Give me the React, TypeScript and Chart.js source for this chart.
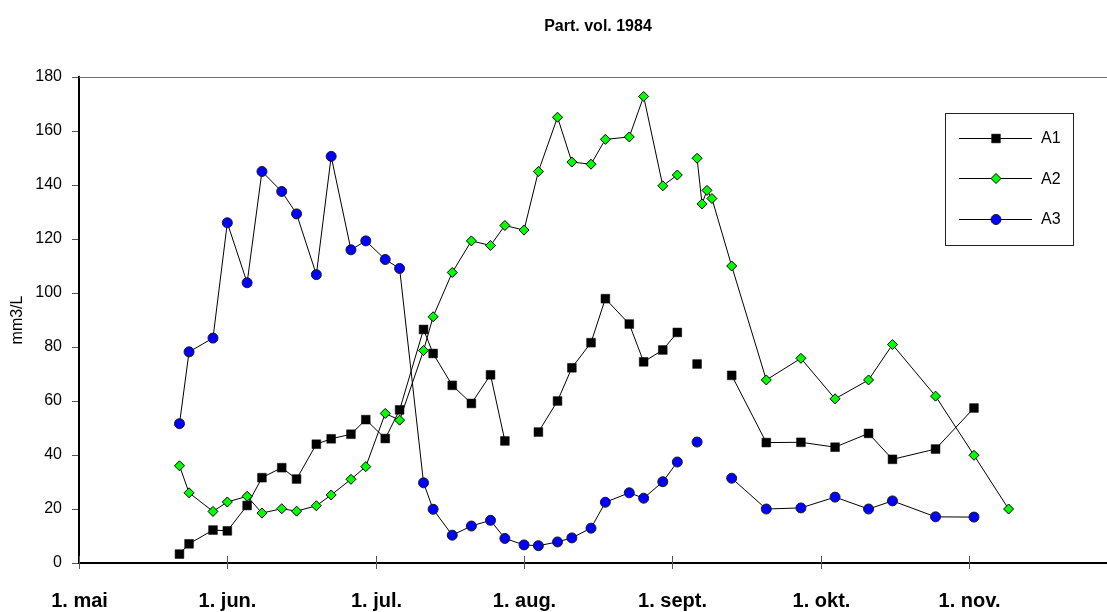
import React, { useEffect, useRef } from 'react';
import { Chart, registerables } from 'chart.js';

Chart.register(...registerables);

const chartTitle = 'Part. vol. 1984';
const yAxisTitle = 'mm3/L';
const monthLabels = ['1. mai', '1. jun.', '1. jul.', '1. aug.', '1. sept.', '1. okt.', '1. nov.'];
const monthDays: Record<number, number> = { 5: 31, 6: 30, 7: 31, 8: 31, 9: 30, 10: 31, 11: 30 };
const yTickValues = [0, 20, 40, 60, 80, 100, 120, 140, 160, 180];

// sampling dates (dd.mm, 1984); "04.09" is a blank row in the source table
const dates = [
  '22.05', '24.05', '29.05',
  '01.06', '05.06', '08.06', '12.06', '15.06', '19.06', '22.06', '26.06', '29.06',
  '03.07', '06.07', '11.07', '13.07', '17.07', '21.07', '25.07', '28.07',
  '01.08', '04.08', '08.08', '11.08', '15.08', '18.08', '23.08', '26.08', '30.08',
  '02.09', '04.09', '06.09', '07.09', '08.09', '09.09', '13.09', '20.09', '27.09',
  '04.10', '11.10', '16.10', '25.10',
  '02.11', '09.11',
];

const seriesNames = ['A1', 'A2', 'A3'];

const a1 = [
  3.3, 7.1, 12.2,
  11.9, 21.3, 31.6, 35.3, 31.1, 44.0, 46.0, 47.7, 53.1,
  46.1, 56.7, 86.5, 77.6, 65.8, 59.1, 69.7, 45.2,
  null, 48.5, 60.0, 72.3, 81.6, 97.9, 88.5, 74.5, 78.9,
  85.4, null, 73.7, null, null, null, 69.5, 44.6, 44.7,
  42.9, 48.0, 38.4, 42.2,
  57.4, null,
];

const a2 = [
  36.0, 26.0, 19.1,
  22.6, 24.7, 18.5, 20.1, 19.2, 21.2, 25.2, 31.0, 35.7,
  55.4, 52.9, 78.7, 91.2, 107.6, 119.3, 117.6, 125.0,
  123.3, 145.0, 165.1, 148.5, 147.7, 156.9, 157.8, 172.8, 139.7,
  143.7, null, 149.9, 133.0, 138.0, 135.0, 110.0, 67.8, 75.8,
  60.8, 67.8, 80.9, 61.8,
  39.9, 20.0,
];

const a3 = [
  51.6, 78.2, 83.3,
  126.0, 103.8, 145.0, 137.6, 129.3, 106.8, 150.6, 116.0, 119.3,
  112.4, 109.1, 29.7, 19.9, 10.3, 13.7, 15.8, 9.1,
  6.7, 6.4, 7.8, 9.3, 12.9, 22.5, 26.0, 24.0, 30.1,
  37.4, null, 44.8, null, null, null, 31.4, 20.0, 20.4,
  24.4, 20.0, 23.0, 17.1,
  17.0, null,
];

const seriesValues = [a1, a2, a3];

function toMonthPos(d: string): number {
  const [dd, mm] = d.split('.').map(Number);
  return (mm - 5) + (dd - 1) / monthDays[mm];
}

const FONT = '"Liberation Sans", Arial, Helvetica, sans-serif';

const styles = [
  { pointStyle: 'rect', radius: 6.2, fill: '#000000', stroke: '#000000', bw: 0.5 },
  { pointStyle: 'rectRot', radius: 5, fill: '#00FF00', stroke: '#000000', bw: 1 },
  { pointStyle: 'circle', radius: 5, fill: '#0000FF', stroke: '#1a1a1a', bw: 1 },
];

function drawMarker(ctx: CanvasRenderingContext2D, kind: string, x: number, y: number, s: any) {
  ctx.beginPath();
  if (kind === 'rect') {
    const h = Math.SQRT1_2 * s.radius;
    ctx.rect(x - h, y - h, 2 * h, 2 * h);
  } else if (kind === 'rectRot') {
    const r = s.radius;
    ctx.moveTo(x - r, y);
    ctx.lineTo(x, y - r);
    ctx.lineTo(x + r, y);
    ctx.lineTo(x, y + r);
    ctx.closePath();
  } else {
    ctx.arc(x, y, s.radius, 0, Math.PI * 2);
  }
  ctx.fillStyle = s.fill;
  ctx.fill();
  ctx.lineWidth = s.bw;
  ctx.strokeStyle = s.stroke;
  ctx.stroke();
}

const decorPlugin = {
  id: 'decor',
  afterDraw(chart: any) {
    const { ctx, chartArea: ca } = chart;
    ctx.save();
    // title
    ctx.fillStyle = '#000';
    ctx.textAlign = 'center';
    ctx.textBaseline = 'alphabetic';
    ctx.font = `bold 16px ${FONT}`;
    ctx.fillText(chartTitle, 598, 31);
    // y axis title
    ctx.save();
    ctx.translate(18, (ca.top + ca.bottom) / 2);
    ctx.rotate(-Math.PI / 2);
    ctx.textBaseline = 'middle';
    ctx.font = `16px ${FONT}`;
    ctx.fillText(yAxisTitle, 0, 0);
    ctx.restore();
    // top border of plot area
    ctx.strokeStyle = '#707070';
    ctx.lineWidth = 1;
    ctx.beginPath();
    ctx.moveTo(ca.left, Math.round(ca.top) + 0.5);
    ctx.lineTo(ca.right, Math.round(ca.top) + 0.5);
    ctx.stroke();
    // x tick marks crossing the axis, and month labels
    const xs = chart.scales.x;
    monthLabels.forEach((label, i) => {
      const px = Math.round(xs.getPixelForValue(i)) + 0.5;
      ctx.strokeStyle = '#555';
      ctx.lineWidth = 1;
      ctx.beginPath();
      ctx.moveTo(px, ca.bottom - 7);
      ctx.lineTo(px, ca.bottom + 6);
      ctx.stroke();
      ctx.fillStyle = '#000';
      ctx.font = `bold 20px ${FONT}`;
      ctx.textAlign = 'center';
      ctx.textBaseline = 'alphabetic';
      ctx.fillText(label, px, 607);
    });
    // legend
    const lx = 945, ly = 113, lw = 128, lh = 132;
    ctx.fillStyle = '#fff';
    ctx.fillRect(lx, ly, lw, lh);
    ctx.strokeStyle = '#222';
    ctx.lineWidth = 1;
    ctx.strokeRect(lx + 0.5, ly + 0.5, lw, lh);
    seriesNames.forEach((name, i) => {
      const y = 137.5 + i * 40.7;
      ctx.strokeStyle = '#000';
      ctx.lineWidth = 1;
      ctx.beginPath();
      ctx.moveTo(959, Math.round(y) + 0.5);
      ctx.lineTo(1032, Math.round(y) + 0.5);
      ctx.stroke();
      drawMarker(ctx, styles[i].pointStyle, 996, Math.round(y) + 0.5, styles[i]);
      ctx.fillStyle = '#000';
      ctx.font = `16px ${FONT}`;
      ctx.textAlign = 'left';
      ctx.textBaseline = 'middle';
      ctx.fillText(name, 1041, y + 1);
    });
    ctx.restore();
  },
};

export default function App() {
  const ref = useRef<HTMLCanvasElement | null>(null);

  useEffect(() => {
    if (!ref.current) return;
    const xs = dates.map(toMonthPos);
    const datasets = seriesNames.map((name, si) => ({
      label: name,
      data: xs.map((x, i) => ({ x, y: seriesValues[si][i] })),
      borderColor: '#000000',
      borderWidth: 1,
      pointStyle: styles[si].pointStyle,
      pointRadius: styles[si].radius,
      pointBackgroundColor: styles[si].fill,
      pointBorderColor: styles[si].stroke,
      pointBorderWidth: styles[si].bw,
      spanGaps: false,
      tension: 0,
      fill: false,
      clip: false,
      order: 3 - si,
    }));

    const chart = new Chart(ref.current, {
      type: 'line',
      data: { datasets },
      options: {
        animation: false,
        responsive: false,
        devicePixelRatio: 1,
        layout: { autoPadding: false, padding: { top: 77, left: 0, right: 0, bottom: 0 } },
        plugins: {
          legend: { display: false },
          title: { display: false },
          tooltip: { enabled: false },
        },
        scales: {
          x: {
            type: 'linear',
            min: 0,
            max: 6.93,
            afterBuildTicks: (s: any) => {
              s.ticks = monthLabels.map((_, i) => ({ value: i }));
            },
            afterFit: (s: any) => {
              s.height = 49;
            },
            ticks: { display: false },
            grid: { display: false },
            border: { display: true, color: '#000', width: 2 },
          },
          y: {
            min: 0,
            max: 180,
            afterBuildTicks: (s: any) => {
              s.ticks = yTickValues.map((v) => ({ value: v }));
            },
            afterFit: (s: any) => {
              s.width = 79;
            },
            ticks: {
              padding: 10,
              color: '#000',
              font: { family: FONT, size: 16 },
            },
            grid: { drawOnChartArea: false, drawTicks: true, tickLength: 7, color: '#555' },
            border: { display: true, color: '#000', width: 2 },
          },
        },
      },
      plugins: [decorPlugin],
    } as any);

    return () => chart.destroy();
  }, []);

  return (
    <div style={{ position: 'absolute', left: 0, top: 0, width: 1107, height: 612, background: '#fff' }}>
      <canvas ref={ref} width={1107} height={612} style={{ display: 'block' }} />
    </div>
  );
}
